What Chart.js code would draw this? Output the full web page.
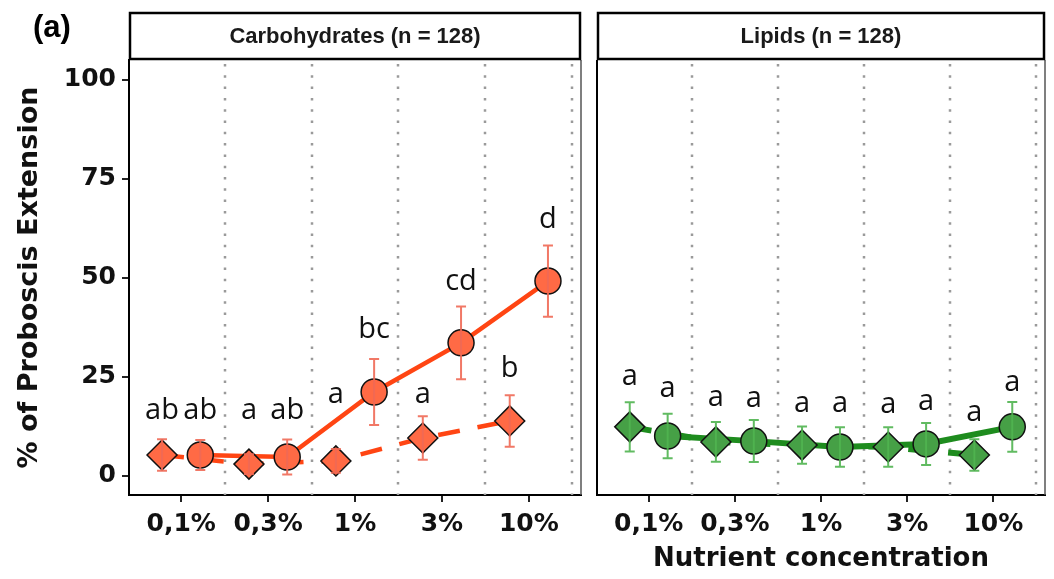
<!DOCTYPE html>
<html>
<head>
<meta charset="utf-8">
<script src="https://cdn.jsdelivr.net/npm/chart.js@4.4.1/dist/chart.umd.min.js"></script>
<style>
  html, body { margin: 0; padding: 0; background: #fff; }
  #wrap { position: relative; width: 1054px; height: 579px; overflow: hidden; }
  canvas { position: absolute; top: 0; }
  #carb { left: 0; }
  #lip { left: 590px; }
</style>
</head>
<body>
<div id="wrap">
  <canvas id="carb" width="590" height="579"></canvas>
  <canvas id="lip" width="464" height="579"></canvas>
</div>
<script>
// categories and tick labels
const categories = ['0,1%', '0,3%', '1%', '3%', '10%'];
const yTicks = [0, 25, 50, 75, 100];

// Carbohydrates panel
const carbCircle = [5.3, 4.8, 21.2, 33.6, 49.2];
const carbCircleErr = [3.8, 4.4, 8.3, 9.2, 9.0];
const carbCircleLetters = ['ab', 'ab', 'bc', 'cd', 'd'];
const carbCircleLetterY = [14.4, 14.4, 34.8, 47.0, 62.6];
const carbDiamond = [5.3, 3.0, 3.8, 9.6, 13.9];
const carbDiamondErr = [4.0, 2.5, 3.0, 5.5, 6.5];
const carbDiamondLetters = ['ab', 'a', 'a', 'a', 'b'];
const carbDiamondLetterY = [14.4, 14.4, 18.4, 18.4, 25.0];

// Lipids panel
const lipCircle = [10.1, 8.8, 7.3, 8.1, 12.4];
const lipCircleErr = [5.6, 5.3, 5.0, 5.3, 6.3];
const lipCircleLetters = ['a', 'a', 'a', 'a', 'a'];
const lipCircleLetterY = [20.0, 17.4, 16.2, 16.7, 21.5];
const lipDiamond = [12.4, 8.6, 7.8, 7.3, 5.3];
const lipDiamondErr = [6.2, 5.0, 4.7, 5.0, 4.0];
const lipDiamondLetters = ['a', 'a', 'a', 'a', 'a'];
const lipDiamondLetterY = [23.0, 17.7, 16.2, 15.9, 13.9];

const OFFSET = 0.22;
const TICK_FONT = { family: 'DejaVu Sans', weight: 'bold', size: 25 };

function toPoints(values, offset) {
    return values.map((v, i) => ({ x: i + offset, y: v }));
}

const panelPlugin = {
    id: 'panel',
    beforeDatasetsDraw(chart) {
        const { ctx, chartArea: a, scales } = chart;
        ctx.save();
        // dotted vertical separators
        ctx.strokeStyle = '#9a9a9a';
        ctx.lineWidth = 2.5;
        ctx.setLineDash([2.5, 8.8]);
        for (let i = 0; i < categories.length; i++) {
            const x = Math.round(scales.x.getPixelForValue(i + 0.5));
            ctx.beginPath();
            ctx.moveTo(x, a.top + 4);
            ctx.lineTo(x, a.bottom);
            ctx.stroke();
        }
        ctx.restore();
    },
    afterDraw(chart) {
        const o = chart.options.plugins.panel;
        const { ctx, chartArea: a } = chart;
        ctx.save();
        // right border (grey)
        ctx.strokeStyle = '#555';
        ctx.lineWidth = 1.5;
        ctx.beginPath();
        ctx.moveTo(a.right, a.top);
        ctx.lineTo(a.right, a.bottom);
        ctx.stroke();
        if (o.leftBorder) {
            ctx.strokeStyle = '#000';
            ctx.lineWidth = 2;
            ctx.beginPath();
            ctx.moveTo(a.left, a.top);
            ctx.lineTo(a.left, a.bottom + 1);
            ctx.stroke();
        }
        // strip
        ctx.fillStyle = '#fff';
        ctx.strokeStyle = '#000';
        ctx.lineWidth = 2.5;
        ctx.fillRect(a.left + 1, 13, a.right - a.left - 2, 46);
        ctx.strokeRect(a.left + 1, 13, a.right - a.left - 2, 46);
        ctx.fillStyle = '#1a1a1a';
        ctx.font = 'bold 22px "Liberation Sans", Arial, sans-serif';
        ctx.textAlign = 'center';
        ctx.textBaseline = 'middle';
        ctx.fillText(o.strip, (a.left + a.right) / 2, 37);
        if (o.tag) {
            ctx.fillStyle = '#000';
            ctx.font = 'bold 31px "Liberation Sans", Arial, sans-serif';
            ctx.textAlign = 'left';
            ctx.fillText(o.tag, 33, 28);
        }
        ctx.restore();
    },
    afterDatasetsDraw(chart) {
        const o = chart.options.plugins.panel;
        const { ctx, scales } = chart;
        ctx.save();
        o.series.forEach(s => {
            // error bars
            ctx.strokeStyle = s.errColor;
            ctx.lineWidth = 2;
            s.values.forEach((v, i) => {
                const x = scales.x.getPixelForValue(i + s.offset);
                const yt = scales.y.getPixelForValue(v + s.errs[i]);
                const yb = scales.y.getPixelForValue(v - s.errs[i]);
                ctx.beginPath();
                ctx.moveTo(x, yt); ctx.lineTo(x, yb);
                ctx.moveTo(x - 5, yt); ctx.lineTo(x + 5, yt);
                ctx.moveTo(x - 5, yb); ctx.lineTo(x + 5, yb);
                ctx.stroke();
            });
            // significance letters
            ctx.fillStyle = '#111';
            ctx.font = '29px "Open Sans", sans-serif';
            ctx.textAlign = 'center';
            ctx.textBaseline = 'alphabetic';
            s.letters.forEach((t, i) => {
                const x = scales.x.getPixelForValue(i + s.offset);
                const y = scales.y.getPixelForValue(s.letterY[i]);
                ctx.fillText(t, x, y);
            });
        });
        ctx.restore();
    }
};

function makePanel(canvasId, cfg) {
    const ctx = document.getElementById(canvasId).getContext('2d');
    const datasets = [
        {
            data: toPoints(cfg.diamond, -OFFSET), showLine: true, borderColor: cfg.line,
            borderWidth: cfg.lineWidth, borderDash: [22, 18], pointRadius: 0, order: 2
        },
        {
            data: toPoints(cfg.circle, OFFSET), showLine: true, borderColor: cfg.line,
            borderWidth: cfg.lineWidth, pointRadius: 0, order: 2
        },
        {
            data: toPoints(cfg.diamond, -OFFSET), showLine: false, pointStyle: 'rectRot',
            pointRadius: 15, backgroundColor: cfg.fill, borderColor: '#111', pointBorderWidth: 1.5, order: 1
        },
        {
            data: toPoints(cfg.circle, OFFSET), showLine: false, pointStyle: 'circle',
            pointRadius: 13, backgroundColor: cfg.fill, borderColor: '#111', pointBorderWidth: 1.5, order: 1
        }
    ];

    return new Chart(ctx, {
        type: 'scatter',
        data: { datasets },
        options: {
            responsive: false,
            animation: false,
            layout: { autoPadding: false, padding: { top: 60, right: 9, left: cfg.padLeft, bottom: 0 } },
            plugins: {
                legend: { display: false },
                tooltip: { enabled: false },
                panel: {
                    strip: cfg.strip,
                    tag: cfg.tag,
                    leftBorder: !cfg.showY,
                    series: [
                        { values: cfg.diamond, errs: cfg.diamondErr, offset: -OFFSET, errColor: cfg.err,
                          letters: cfg.diamondLetters, letterY: cfg.diamondLetterY },
                        { values: cfg.circle, errs: cfg.circleErr, offset: OFFSET, errColor: cfg.err,
                          letters: cfg.circleLetters, letterY: cfg.circleLetterY }
                    ]
                }
            },
            scales: {
                x: {
                    type: 'linear',
                    min: -0.6,
                    max: 4.6,
                    afterBuildTicks: s => { s.ticks = categories.map((c, i) => ({ value: i })); },
                    afterFit: s => { s.height = 84; },
                    ticks: {
                        callback: v => categories[v],
                        color: '#111',
                        font: TICK_FONT,
                        padding: 7,
                        maxRotation: 0,
                        autoSkip: false
                    },
                    grid: { drawOnChartArea: false, color: '#222', tickLength: 7, lineWidth: 2 },
                    border: { color: '#000', width: 2 },
                    title: {
                        display: !!cfg.xTitle,
                        text: cfg.xTitle || '',
                        color: '#111',
                        font: { family: 'DejaVu Sans', weight: 'bold', size: 26 },
                        padding: { top: 0, bottom: 4 }
                    }
                },
                y: {
                    display: cfg.showY,
                    min: -4.8,
                    max: 105,
                    afterBuildTicks: s => { s.ticks = yTicks.map(v => ({ value: v })); },
                    afterFit: s => { s.width = cfg.showY ? 129 : 0; },
                    ticks: { color: '#111', font: TICK_FONT, padding: 6 },
                    grid: { drawOnChartArea: false, color: '#222', tickLength: 7, lineWidth: 2 },
                    border: { color: '#000', width: 2 },
                    title: {
                        display: true,
                        text: '% of Proboscis Extension',
                        color: '#111',
                        font: { family: 'DejaVu Sans', weight: 'bold', size: 27 },
                        padding: { top: 14, bottom: 0 }
                    }
                }
            }
        },
        plugins: [panelPlugin]
    });
}

makePanel('carb', {
    strip: 'Carbohydrates (n = 128)', tag: '(a)', showY: true, padLeft: 0,
    circle: carbCircle, circleErr: carbCircleErr, circleLetters: carbCircleLetters, circleLetterY: carbCircleLetterY,
    diamond: carbDiamond, diamondErr: carbDiamondErr, diamondLetters: carbDiamondLetters, diamondLetterY: carbDiamondLetterY,
    line: '#FF4513', fill: '#FF6A45', err: 'rgba(240,105,85,0.9)', lineWidth: 4.5
});

makePanel('lip', {
    strip: 'Lipids (n = 128)', tag: null, showY: false, padLeft: 7,
    circle: lipCircle, circleErr: lipCircleErr, circleLetters: lipCircleLetters, circleLetterY: lipCircleLetterY,
    diamond: lipDiamond, diamondErr: lipDiamondErr, diamondLetters: lipDiamondLetters, diamondLetterY: lipDiamondLetterY,
    line: '#1E8C1E', fill: '#46A046', err: 'rgba(80,180,80,0.9)', lineWidth: 6,
    xTitle: 'Nutrient concentration'
});
</script>
</body>
</html>
